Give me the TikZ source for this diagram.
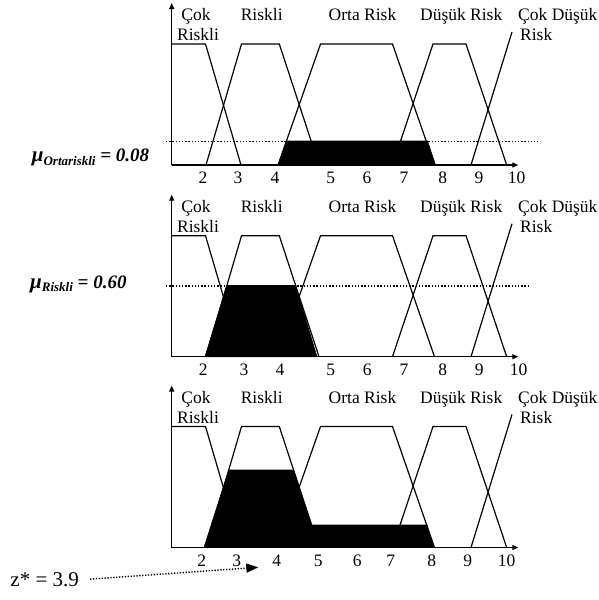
\documentclass[tikz,border=0pt]{standalone}
\usepackage{fontspec}
\setmainfont{Liberation Serif}
\usetikzlibrary{arrows.meta}
\tikzset{
  mf/.style={line width=1.2pt, line join=miter},
  axisline/.style={line width=1.2pt, -{Triangle[length=6pt,width=5pt]}},
  lbl/.style={font=\fontsize{17.5}{20}\selectfont, inner sep=0pt},
  ticklbl/.style={font=\fontsize{17.5}{20}\selectfont, inner sep=0pt, anchor=base},
  cutline/.style={line width=1.4pt, dash pattern=on 1.3pt off 1.9pt},
  blk/.style={fill=black, draw=black, line width=0.6pt, line join=round},
  mulbl/.style={inner sep=0pt, anchor=base west, font=\bfseries\itshape},
  zlbl/.style={inner sep=0pt, anchor=base, font=\fontsize{21}{21}\selectfont},
  zarrow/.style={line width=1.4pt, dash pattern=on 1.3pt off 1.6pt, -{Triangle[length=12pt,width=9pt]}}
}
\newcommand\mfpanel[3]{%
  \draw[axisline] (171.7,#2) -- (171.7,#2-162);
  \draw[axisline] (171.7,#2) -- (518.3,#2);
  \draw[mf] (171.7,#2-121) -- (205.5,#2-121) -- (241,#2);
  \draw[mf] (206,#2) -- (241.5,#2-121) -- (279.3,#2-121) -- (319,#2);
  \draw[mf] (278,#2) -- (320.5,#2-121) -- (392.5,#2-121) -- (434.5,#2);
  \draw[mf] (392.5,#2) -- (433,#2-121) -- (466,#2-121) -- (506.7,#2);
  \draw[mf] (471,#2) -- (512,#2-133);
  \node[lbl,anchor=base] (#1a1) at (196,#2-144.5) {Çok};
  \node[lbl,anchor=base] (#1a2) at (198,#2-124.5) {Riskli};
  \node[lbl,anchor=base] (#1b) at (261.7,#2-144.5) {Riskli};
  \node[lbl,anchor=base] (#1c) at (362.5,#2-144.5) {Orta Risk};
  \node[lbl,anchor=base] (#1d) at (461.2,#2-144.5) {Düşük Risk};
  \node[lbl,anchor=base west] (#1e1) at (518,#2-144.5) {Çok Düşük};
  \node[lbl,anchor=base west] (#1e2) at (520,#2-124.5) {Risk};
  \foreach \v/\x in {#3} \node[ticklbl] (#1t\v) at (\x,#2+18.8) {\v};
}
\begin{document}
\begin{tikzpicture}[x=1pt,y=-1pt]
\useasboundingbox (0,0) rectangle (599,600);
% ---- top panel
\fill[blk] (278.3,165) -- (286.5,141) -- (427.5,141) -- (435.5,165) -- cycle;
\mfpanel{p}{165}{2/203,3/238,4/275,5/330.7,6/367,7/404,8/442.7,9/479,10/516.7}
\draw[cutline] (166,141.5) -- (538.3,141.5);
\node[mulbl] (mu1) at (31.7,161.7) {\fontsize{21}{21}\selectfont μ\raisebox{-3.3pt}{\fontsize{13}{13}\selectfont Ortariskli}\fontsize{19}{19}\selectfont{} = 0.08};
% ---- middle panel
\fill[blk] (205,356.7) -- (226.7,285.5) -- (295.5,285.5) -- (317,356.7) -- cycle;
\mfpanel{q}{356.7}{2/203.3,3/244,4/280,5/330.7,6/367.3,7/404,8/442.7,9/479.3,10/518.7}
\draw[cutline] (166,286) -- (530,286);
\node[mulbl] (mu2) at (30,288.3) {\fontsize{21}{21}\selectfont μ\raisebox{-3.3pt}{\fontsize{13}{13}\selectfont Riskli}\fontsize{19}{19}\selectfont{} = 0.60};
% ---- bottom panel
\fill[blk] (204,547.5) -- (228.7,470) -- (293.6,470) -- (311.6,525) -- (427,525) -- (433.5,547.5) -- cycle;
\mfpanel{r}{547.5}{2/201.7,3/236.7,4/276.7,5/318.3,6/357.3,7/390.7,8/431.7,9/467.7,10/506.7}
% ---- defuzzified value
\node[zlbl] (zstar) at (44.7,586.7) {z* = 3.9};
\coordinate (ztip) at (258.3,567.3);
\draw[zarrow, shorten <=11pt] (zstar.east) -- (ztip);
\end{tikzpicture}
\end{document}
